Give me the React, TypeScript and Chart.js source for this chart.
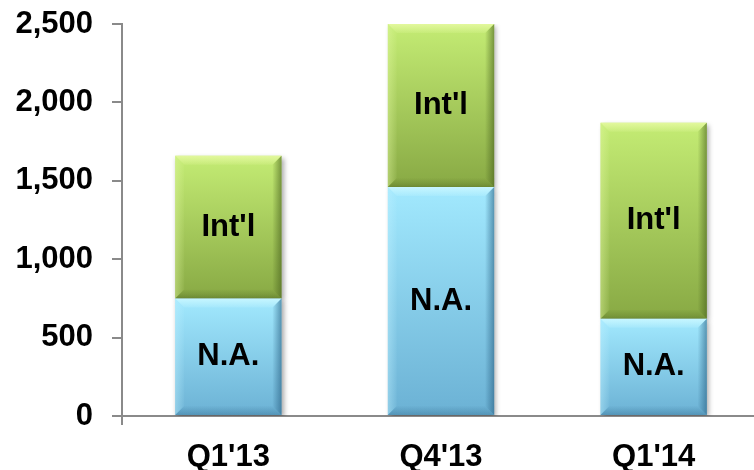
import { useEffect, useRef } from "react";
import { Chart, registerables } from "chart.js";

Chart.register(...registerables);

// Quarterly totals split by region
const quarters = ["Q1'13", "Q4'13", "Q1'14"];
const northAmerica = [750, 1460, 620];
const international = [910, 1040, 1250];

// Value axis range
const axisMin = 0;
const axisMax = 2500;
const axisStep = 500;

const regionLabels = ["N.A.", "Int'l"];

type Shades = { top: string; bottom: string; light: string; side: string; dark: string };

const naShades: Shades = {
  top: "#a2e9fe",
  bottom: "#6bb1d4",
  light: "rgba(205,248,255,",
  side: "rgba(190,240,255,",
  dark: "rgba(40,95,130,",
};
const intlShades: Shades = {
  top: "#c4ec74",
  bottom: "#88a944",
  light: "rgba(232,250,165,",
  side: "rgba(225,248,160,",
  dark: "rgba(70,95,28,",
};

const FONT_FAMILY = "'Liberation Sans', Arial, Helvetica, sans-serif";
const AXIS_GREY = "#8a8a8a";

function segmentFill(c: any, shades: Shades, bases: number[] | null) {
  const chart = c.chart;
  const y = chart.scales?.y;
  if (!y || c.dataIndex === undefined || !chart.chartArea) return shades.top;
  const base = bases ? bases[c.dataIndex] : 0;
  const top = base + (c.raw as number);
  const y0 = y.getPixelForValue(top);
  const y1 = y.getPixelForValue(base);
  if (!isFinite(y0) || !isFinite(y1)) return shades.top;
  const g = chart.ctx.createLinearGradient(0, y0, 0, y1);
  g.addColorStop(0, shades.top);
  g.addColorStop(1, shades.bottom);
  return g;
}

// Bevelled edges, soft drop shadow and in-bar region names
const bevelPlugin = {
  id: "bevelBars",
  beforeDatasetsDraw(chart: any) {
    const ctx = chart.ctx;
    ctx.save();
    ctx.shadowColor = "rgba(0,0,0,0.35)";
    ctx.shadowBlur = 5;
    ctx.shadowOffsetX = 2;
    ctx.shadowOffsetY = 2;
  },
  afterDatasetsDraw(chart: any) {
    const ctx = chart.ctx;
    ctx.restore();
    const shadesList = [naShades, intlShades];
    const d = 9;
    chart.data.datasets.forEach((ds: any, di: number) => {
      const meta = chart.getDatasetMeta(di);
      const shades = shadesList[di];
      meta.data.forEach((el: any) => {
        const { x, y, base, width } = el.getProps(["x", "y", "base", "width"], true);
        const l = x - width / 2;
        const r = x + width / 2;
        const t = Math.min(y, base);
        const b = Math.max(y, base);
        const poly = (pts: number[][], fill: any) => {
          ctx.beginPath();
          ctx.moveTo(pts[0][0], pts[0][1]);
          for (let i = 1; i < pts.length; i++) ctx.lineTo(pts[i][0], pts[i][1]);
          ctx.closePath();
          ctx.fillStyle = fill;
          ctx.fill();
        };
        const grad = (x0: number, y0: number, x1: number, y1: number, base: string, a0: number, a1: number) => {
          const g = ctx.createLinearGradient(x0, y0, x1, y1);
          g.addColorStop(0, base + a0 + ")");
          g.addColorStop(1, base + a1 + ")");
          return g;
        };
        ctx.save();
        poly([[l, t], [r, t], [r - d, t + d], [l + d, t + d]], grad(0, t, 0, t + d, shades.light, 0.85, 0.15));
        poly([[l, t], [l + d, t + d], [l + d, b - d], [l, b]], grad(l, 0, l + d, 0, shades.side, 0.45, 0.05));
        poly([[r, t], [r, b], [r - d, b - d], [r - d, t + d]], grad(r, 0, r - d, 0, shades.dark, 0.6, 0.02));
        poly([[l, b], [r, b], [r - d, b - d], [l + d, b - d]], grad(0, b, 0, b - d, shades.dark, 0.35, 0.02));
        ctx.restore();

        ctx.save();
        ctx.font = `bold 31px ${FONT_FAMILY}`;
        ctx.fillStyle = "#000";
        ctx.textAlign = "center";
        ctx.textBaseline = "middle";
        ctx.fillText(ds.label, x, (t + b) / 2);
        ctx.restore();
      });
    });
  },
};

export default function App() {
  const canvasRef = useRef<HTMLCanvasElement | null>(null);

  useEffect(() => {
    if (!canvasRef.current) return;
    const tickFont = { family: FONT_FAMILY, size: 31, weight: "bold" as const };
    const chart = new Chart(canvasRef.current, {
      type: "bar",
      data: {
        labels: quarters,
        datasets: [
          {
            label: regionLabels[0],
            data: northAmerica,
            backgroundColor: (c: any) => segmentFill(c, naShades, null),
            borderWidth: 0,
            categoryPercentage: 0.5,
            barPercentage: 1,
          },
          {
            label: regionLabels[1],
            data: international,
            backgroundColor: (c: any) => segmentFill(c, intlShades, northAmerica),
            borderWidth: 0,
            categoryPercentage: 0.5,
            barPercentage: 1,
          },
        ],
      },
      options: {
        animation: false,
        responsive: true,
        maintainAspectRatio: false,
        layout: { padding: { top: 24, right: 2, bottom: 0, left: 0 } },
        plugins: {
          legend: { display: false },
          tooltip: { enabled: false },
        },
        scales: {
          x: {
            stacked: true,
            grid: {
              display: true,
              drawOnChartArea: false,
              drawTicks: true,
              offset: true,
              tickLength: 9,
              lineWidth: 2,
              color: (c: any) => (c.index === 0 ? AXIS_GREY : "rgba(0,0,0,0)"),
            },
            border: { display: true, color: AXIS_GREY, width: 2 },
            ticks: {
              color: "#000",
              font: tickFont,
              padding: 14,
              maxRotation: 0,
            },
            afterFit: (s: any) => {
              s.height = 54;
            },
          },
          y: {
            stacked: true,
            min: axisMin,
            max: axisMax,
            grid: {
              display: true,
              drawOnChartArea: false,
              drawTicks: true,
              tickLength: 10,
              lineWidth: 2,
              color: AXIS_GREY,
            },
            border: { display: true, color: AXIS_GREY, width: 2 },
            ticks: {
              stepSize: axisStep,
              color: "#000",
              font: tickFont,
              padding: 19,
              callback: (v: any) => Number(v).toLocaleString("en-US"),
            },
            afterFit: (s: any) => {
              s.width = 122;
              s.paddingTop = 0;
              s.paddingBottom = 0;
            },
          },
        },
      },
      plugins: [bevelPlugin],
    });
    return () => chart.destroy();
  }, []);

  return (
    <div
      style={{
        position: "fixed",
        left: 0,
        top: 0,
        width: 754,
        height: 470,
        overflow: "hidden",
        background: "#fff",
      }}
    >
      <div style={{ position: "relative", width: 762, height: 470 }}>
        <canvas ref={canvasRef} />
      </div>
    </div>
  );
}
